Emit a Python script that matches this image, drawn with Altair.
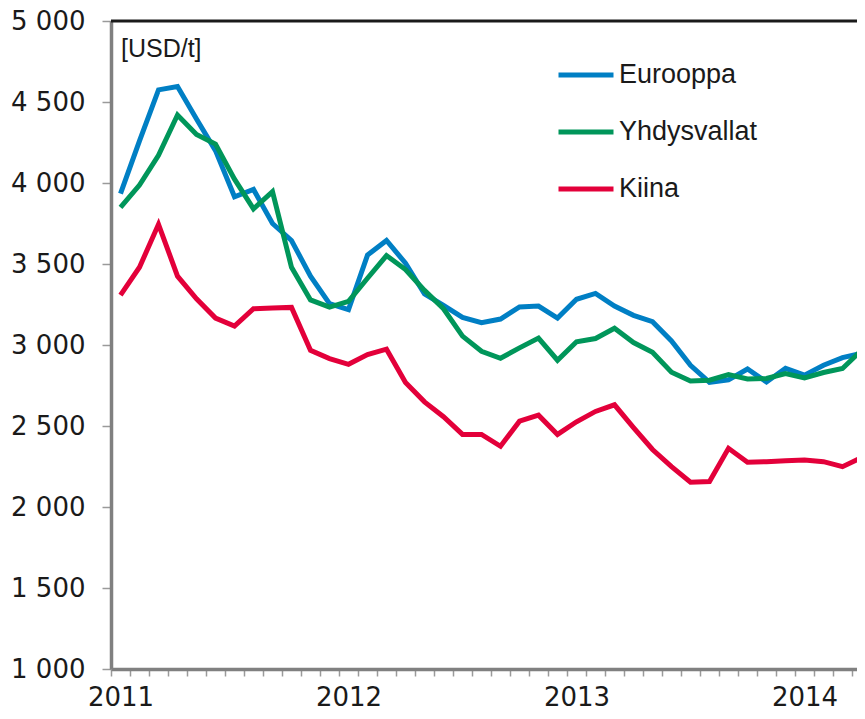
import altair as alt
import pandas as pd

months = list(range(40))  # Jan 2011 .. Apr 2014
series_names = ["Eurooppa", "Yhdysvallat", "Kiina"]
series_colors = ["#007fc4", "#00965a", "#e3003a"]

eurooppa = [3935, 4260, 4575, 4595, 4395, 4200, 3915, 3960, 3750, 3645,
            3425, 3255, 3218, 3555, 3645, 3505, 3315, 3245, 3170, 3138,
            3160, 3235, 3240, 3166, 3282, 3318, 3240, 3183, 3144, 3025,
            2875, 2770, 2785, 2852, 2772, 2856, 2814, 2875, 2922, 2948]
yhdysvallat = [3850, 3987, 4171, 4420, 4300, 4240, 4024, 3840, 3946, 3480,
               3278, 3234, 3269, 3412, 3552, 3466, 3337, 3224, 3055, 2961,
               2918, 2982, 3043, 2906, 3020, 3040, 3103, 3015, 2955, 2832,
               2778, 2783, 2817, 2790, 2793, 2824, 2797, 2830, 2855, 2967]
kiina = [3308, 3480, 3745, 3425, 3285, 3166, 3117, 3224, 3228, 3232,
         2967, 2916, 2881, 2941, 2974, 2768, 2649, 2557, 2448, 2448,
         2375, 2530, 2567, 2448, 2526, 2590, 2631, 2490, 2355, 2249,
         2153, 2157, 2362, 2276, 2280, 2286, 2290, 2280, 2249, 2305]

y_ticks = [1000, 1500, 2000, 2500, 3000, 3500, 4000, 4500, 5000]
first_year = 2011
unit_label = "[USD/t]"

rows = []
for name, vals in zip(series_names, [eurooppa, yhdysvallat, kiina]):
    for m, v in zip(months, vals):
        rows.append({"m": m + 0.5, "value": v, "series": name})
df = pd.DataFrame(rows)
one = pd.DataFrame({"k": [0]})

MONTH_PX = 19.0
W, H = 746, 648
axis_gray = "#808080"
tick_gray = "#9a9a9a"
text_col = "#1a1a1a"

x_scale = alt.Scale(domain=[0, W / MONTH_PX], nice=False, zero=False)
y_scale = alt.Scale(domain=[1000, 5000], nice=False, zero=False)

lines = alt.Chart(df).mark_line(strokeWidth=5, clip=True, strokeJoin="miter").encode(
    x=alt.X("m:Q", scale=x_scale, title=None,
            axis=alt.Axis(values=months, grid=False,
                          labelExpr=f"datum.value % 12 == 0 ? '' + ({first_year} + datum.value / 12) : ''",
                          labelOverlap=False, labelFlush=False, labelOffset=9.5,
                          labelPadding=8,
                          labelFont="DejaVu Sans", labelFontSize=26,
                          labelColor=text_col,
                          tickSize=7, tickColor=tick_gray, tickWidth=1.5,
                          domainColor=axis_gray, domainWidth=3.5)),
    y=alt.Y("value:Q", scale=y_scale, title=None,
            axis=alt.Axis(values=y_ticks, grid=False,
                          labelExpr="replace(format(datum.value, ','), ',', ' ')",
                          labelFont="DejaVu Sans", labelFontSize=26,
                          labelColor=text_col, labelPadding=17,
                          tickSize=9, tickColor=tick_gray, tickWidth=1.5,
                          domainColor=axis_gray, domainWidth=3.5)),
    color=alt.Color("series:N", sort=series_names,
                    scale=alt.Scale(domain=series_names, range=series_colors),
                    legend=alt.Legend(title=None, orient="none", legendX=445, legendY=24,
                                      symbolType="stroke", symbolStrokeWidth=5,
                                      symbolSize=3025, labelOffset=3,
                                      labelFont="Liberation Sans", labelFontSize=27,
                                      labelColor=text_col, rowPadding=14)),
    order=alt.Order("m:Q"),
)

top_border = alt.Chart(one).mark_rule(color=text_col, strokeWidth=3).encode(
    x=alt.value(0), x2=alt.value(W), y=alt.value(0))

unit_text = alt.Chart(one).mark_text(
    text=unit_label, align="left", baseline="middle",
    font="Liberation Sans", fontSize=25, color=text_col).encode(
    x=alt.value(10), y=alt.value(27.5))

chart = alt.layer(lines, top_border, unit_text).properties(
    width=W, height=H,
    autosize=alt.AutoSizeParams(type="none"),
    padding={"left": 103, "top": 13, "right": 0, "bottom": 42},
).configure_view(stroke=None)

chart.save("out.html", embed_options={"renderer": "svg", "actions": False})
